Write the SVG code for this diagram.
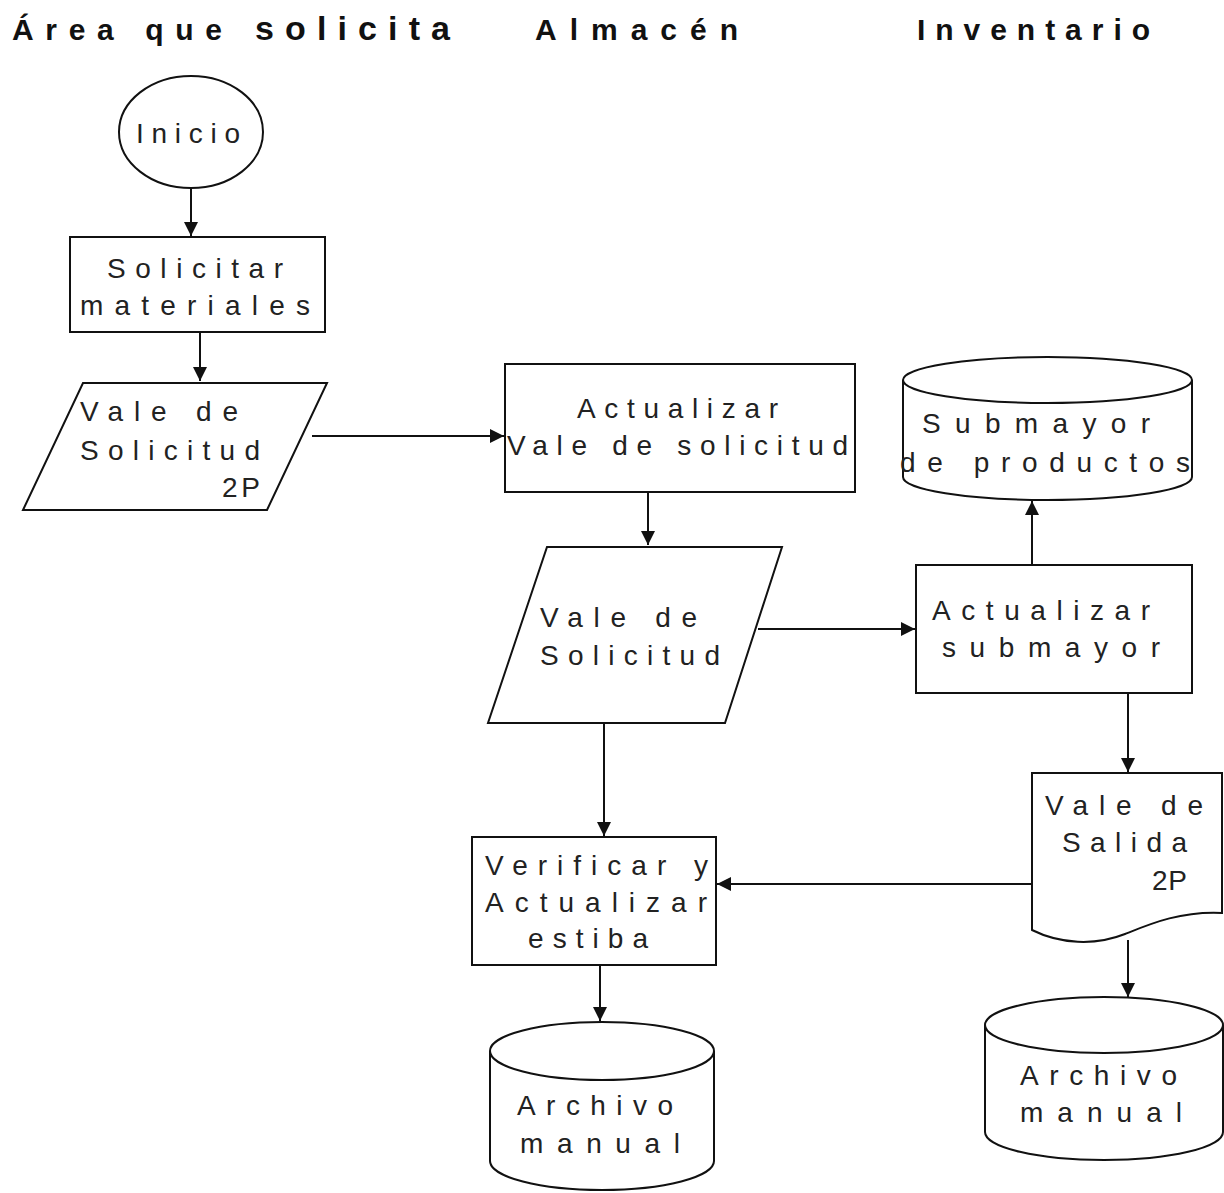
<svg xmlns="http://www.w3.org/2000/svg" width="1224" height="1193" viewBox="0 0 1224 1193">
  <style>
    .shape { fill: #fff; stroke: #111; stroke-width: 2; }
    .line { fill: none; stroke: #111; stroke-width: 2; }
    .lbl { font-family: "Liberation Sans", Arial, sans-serif; font-size: 28px; fill: #222; }
    .head { font-family: "Liberation Sans", Arial, sans-serif; font-size: 30px; font-weight: bold; fill: #111; }
  </style>
  <defs>
    <marker id="arrow" markerUnits="userSpaceOnUse" markerWidth="14" markerHeight="14" refX="14" refY="7" orient="auto">
      <path d="M0,0 L14,7 L0,14 z" fill="#111"/>
    </marker>
  </defs>
  <rect width="1224" height="1193" fill="#fff"/>

  <!-- lane headings -->
  <g id="headings">
    <text class="head" x="12" y="40" textLength="210" lengthAdjust="spacing">Área que</text>
    <text class="head" x="255" y="40" style="font-size:34px" textLength="195" lengthAdjust="spacing">solicita</text>
    <text class="head" x="535" y="40" textLength="203" lengthAdjust="spacing">Almacén</text>
    <text class="head" x="917" y="40" textLength="233" lengthAdjust="spacing">Inventario</text>
  </g>

  <!-- connectors -->
  <g id="connectors">
    <line class="line" x1="191" y1="188" x2="191" y2="236" marker-end="url(#arrow)"/>
    <line class="line" x1="200" y1="332" x2="200" y2="381" marker-end="url(#arrow)"/>
    <line class="line" x1="312" y1="436" x2="504" y2="436" marker-end="url(#arrow)"/>
    <line class="line" x1="648" y1="492" x2="648" y2="545" marker-end="url(#arrow)"/>
    <line class="line" x1="758" y1="629" x2="915" y2="629" marker-end="url(#arrow)"/>
    <line class="line" x1="1032" y1="565" x2="1032" y2="501" marker-end="url(#arrow)"/>
    <line class="line" x1="1128" y1="693" x2="1128" y2="772" marker-end="url(#arrow)"/>
    <line class="line" x1="1032" y1="884" x2="717" y2="884" marker-end="url(#arrow)"/>
    <line class="line" x1="604" y1="723" x2="604" y2="836" marker-end="url(#arrow)"/>
    <line class="line" x1="1128" y1="940" x2="1128" y2="997" marker-end="url(#arrow)"/>
    <line class="line" x1="600" y1="965" x2="600" y2="1021" marker-end="url(#arrow)"/>
  </g>

  <g id="inicio">
    <ellipse class="shape" cx="191" cy="132" rx="72" ry="56"/>
    <text class="lbl" x="136" y="143" textLength="104" lengthAdjust="spacing">Inicio</text>
  </g>

  <g id="solicitar-materiales">
    <rect class="shape" x="70" y="237" width="255" height="95"/>
    <text class="lbl" x="107" y="278" textLength="176" lengthAdjust="spacing">Solicitar</text>
    <text class="lbl" x="80" y="315" textLength="230" lengthAdjust="spacing">materiales</text>
  </g>

  <g id="vale-solicitud-2p">
    <polygon class="shape" points="83,383 327,383 267,510 23,510"/>
    <text class="lbl" x="80" y="421" textLength="158" lengthAdjust="spacing">Vale  de</text>
    <text class="lbl" x="80" y="460" textLength="180" lengthAdjust="spacing">Solicitud</text>
    <text class="lbl" x="222" y="497" textLength="38" lengthAdjust="spacing">2P</text>
  </g>

  <g id="actualizar-vale">
    <rect class="shape" x="505" y="364" width="350" height="128"/>
    <text class="lbl" x="577" y="418" textLength="201" lengthAdjust="spacing">Actualizar</text>
    <text class="lbl" x="507" y="455" textLength="341" lengthAdjust="spacing">Vale  de  solicitud</text>
  </g>

  <g id="vale-solicitud">
    <polygon class="shape" points="547,547 782,547 725,723 488,723"/>
    <text class="lbl" x="540" y="627" textLength="157" lengthAdjust="spacing">Vale  de</text>
    <text class="lbl" x="540" y="665" textLength="180" lengthAdjust="spacing">Solicitud</text>
  </g>

  <g id="submayor-productos">
    <path class="shape" d="M903,380 V477 A144.5,23 0 0 0 1192,477 V380"/>
    <ellipse class="shape" cx="1047.5" cy="380" rx="144.5" ry="23"/>
    <text class="lbl" x="922" y="433" textLength="228" lengthAdjust="spacing">Submayor</text>
    <text class="lbl" x="900" y="472" textLength="290" lengthAdjust="spacing">de  productos</text>
  </g>

  <g id="actualizar-submayor">
    <rect class="shape" x="916" y="565" width="276" height="128"/>
    <text class="lbl" x="932" y="620" textLength="218" lengthAdjust="spacing">Actualizar</text>
    <text class="lbl" x="942" y="657" textLength="218" lengthAdjust="spacing">submayor</text>
  </g>

  <g id="vale-salida">
    <path class="shape" d="M1032,773 H1222 V913 C1180,911 1150,924 1125,934 C1095,946 1060,944 1032,930 Z"/>
    <text class="lbl" x="1045" y="815" textLength="158" lengthAdjust="spacing">Vale  de</text>
    <text class="lbl" x="1062" y="852" textLength="125" lengthAdjust="spacing">Salida</text>
    <text class="lbl" x="1152" y="890" textLength="35" lengthAdjust="spacing">2P</text>
  </g>

  <g id="verificar-estiba">
    <rect class="shape" x="472" y="837" width="244" height="128"/>
    <text class="lbl" x="485" y="875" textLength="223" lengthAdjust="spacing">Verificar  y</text>
    <text class="lbl" x="485" y="912" textLength="222" lengthAdjust="spacing">Actualizar</text>
    <text class="lbl" x="528" y="948" textLength="120" lengthAdjust="spacing">estiba</text>
  </g>

  <g id="archivo-almacen">
    <path class="shape" d="M490,1051 V1161 A112,29 0 0 0 714,1161 V1051"/>
    <ellipse class="shape" cx="602" cy="1051" rx="112" ry="29"/>
    <text class="lbl" x="517" y="1115" textLength="156" lengthAdjust="spacing">Archivo</text>
    <text class="lbl" x="520" y="1153" textLength="160" lengthAdjust="spacing">manual</text>
  </g>

  <g id="archivo-inventario">
    <path class="shape" d="M985,1025 V1132 A119,28 0 0 0 1223,1132 V1025"/>
    <ellipse class="shape" cx="1104" cy="1025" rx="119" ry="28"/>
    <text class="lbl" x="1020" y="1085" textLength="157" lengthAdjust="spacing">Archivo</text>
    <text class="lbl" x="1020" y="1122" textLength="162" lengthAdjust="spacing">manual</text>
  </g>
</svg>
